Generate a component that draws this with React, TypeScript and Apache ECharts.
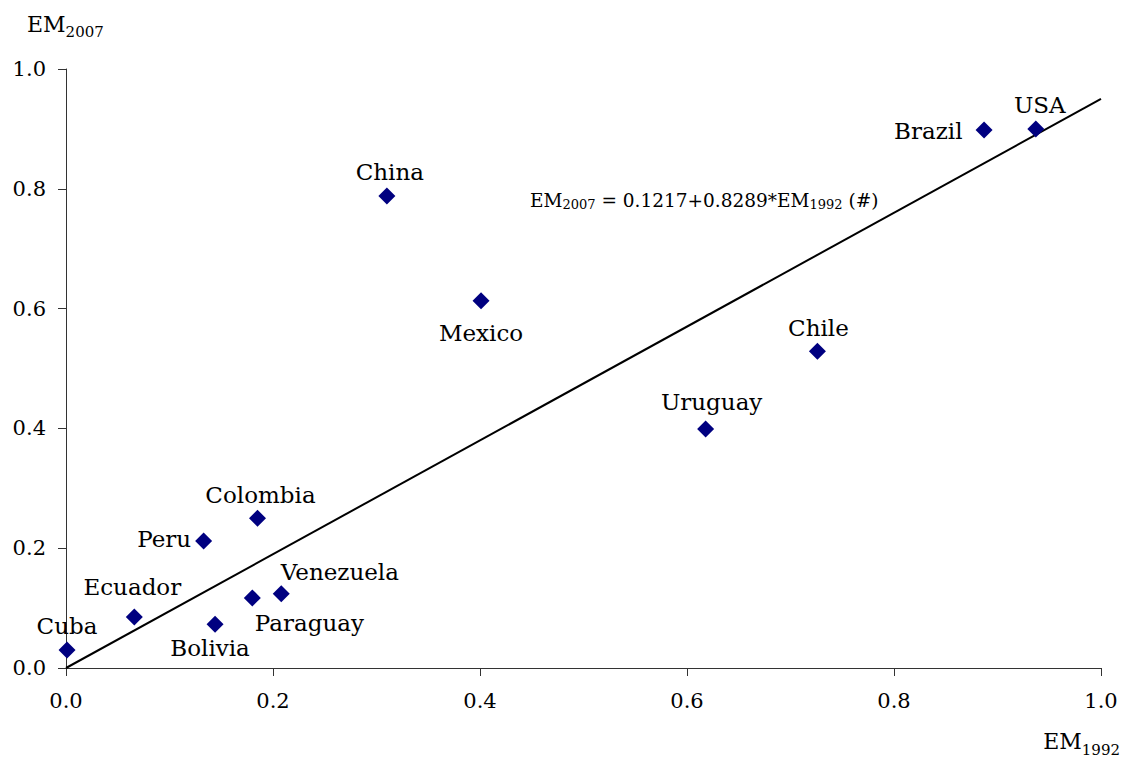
import React, { useEffect, useRef } from "react";
import * as echarts from "echarts";

const countries = ["Cuba", "Ecuador", "Bolivia", "Peru", "Colombia", "Paraguay", "Venezuela", "China", "Mexico", "Uruguay", "Chile", "Brazil", "USA"];
const em1992 = [0.001, 0.066, 0.144, 0.133, 0.185, 0.180, 0.208, 0.310, 0.401, 0.618, 0.726, 0.887, 0.937];
const em2007 = [0.030, 0.085, 0.073, 0.212, 0.250, 0.117, 0.124, 0.788, 0.613, 0.399, 0.529, 0.898, 0.900];
const lineX = [0, 1];
const lineY = [0, 0.95];
const yTitle = ["EM", "2007"];
const xTitle = ["EM", "1992"];
const equationParts = ["EM", "2007", " = 0.1217+0.8289*EM", "1992", " (#)"];

type LabelPos = { position: string; offset: [number, number]; distance: number };
const labelPlacement: LabelPos[] = [
  { position: "top", offset: [0, 1], distance: 5 },
  { position: "top", offset: [-2, -5], distance: 5 },
  { position: "bottom", offset: [-5, 0], distance: 4 },
  { position: "left", offset: [0, -2], distance: 4 },
  { position: "top", offset: [3, 2], distance: 5 },
  { position: "right", offset: [-11, 25], distance: 5 },
  { position: "right", offset: [-14, -22], distance: 5 },
  { position: "top", offset: [3, 1], distance: 5 },
  { position: "bottom", offset: [0, 0], distance: 12 },
  { position: "top", offset: [6, -2], distance: 5 },
  { position: "top", offset: [1, 2], distance: 5 },
  { position: "left", offset: [0, 1], distance: 13 },
  { position: "top", offset: [4, 1], distance: 5 },
];

const FONT_NAME = "DejaVu Serif";
const FONT = "'DejaVu Serif', serif";

function measure(text: string, size: number): number {
  const c = document.createElement("canvas").getContext("2d")!;
  c.font = `${size}px '${FONT_NAME}', serif`;
  return c.measureText(text).width;
}

// Builds subscripted text as separate text elements (main size / sub size alternating)
function subText(parts: string[], x: number, baseline: number, main: number, sub: number, subDrop: number, alignRight: boolean) {
  const sizes = parts.map((_, i) => (i % 2 === 0 ? main : sub));
  const widths = parts.map((p, i) => measure(p, sizes[i]));
  const total = widths.reduce((a, b) => a + b, 0);
  let cx = alignRight ? x - total : x;
  const els: any[] = [];
  parts.forEach((p, i) => {
    const fs = sizes[i];
    const base = i % 2 === 0 ? baseline : baseline + subDrop;
    els.push({
      type: "text",
      x: cx,
      y: base - 0.346 * fs,
      style: { text: p, fontFamily: FONT, fontSize: fs, fill: "#000", align: "left", verticalAlign: "middle" },
    });
    cx += widths[i];
  });
  return els;
}

export default function App() {
  const ref = useRef<HTMLDivElement>(null);
  useEffect(() => {
    const chart = echarts.init(ref.current!, null, { renderer: "svg" });
    const pts = countries.map((c, i) => ({
      value: [em1992[i], em2007[i]],
      name: c,
      label: {
        show: true,
        formatter: c,
        color: "#000",
        fontFamily: FONT,
        fontSize: 23,
        position: labelPlacement[i].position,
        offset: labelPlacement[i].offset,
        distance: labelPlacement[i].distance,
      },
    }));
    const graphics = [
      ...subText(yTitle, 27, 32, 22, 15, 5, false),
      ...subText(xTitle, 1120, 749, 22, 15, 6, true),
      ...subText(equationParts, 530, 207, 18.5, 13, 2, false),
    ];
    chart.setOption({
      animation: false,
      backgroundColor: "#ffffff",
      grid: { left: 66, right: 24, top: 69, bottom: 90, containLabel: false },
      xAxis: {
        type: "value",
        min: 0,
        max: 1,
        interval: 0.2,
        splitLine: { show: false },
        axisLine: { show: true, onZero: false, lineStyle: { color: "#333", width: 1 } },
        axisTick: { show: true, length: 8, lineStyle: { color: "#333" } },
        axisLabel: { color: "#000", fontFamily: FONT, fontSize: 21, margin: 22, formatter: (v: number) => v.toFixed(1) },
      },
      yAxis: {
        type: "value",
        min: 0,
        max: 1,
        interval: 0.2,
        splitLine: { show: false },
        axisLine: { show: true, onZero: false, lineStyle: { color: "#333", width: 1 } },
        axisTick: { show: true, length: 8, lineStyle: { color: "#333" } },
        axisLabel: { color: "#000", fontFamily: FONT, fontSize: 21, margin: 20, formatter: (v: number) => v.toFixed(1) },
      },
      graphic: graphics,
      series: [
        {
          type: "line",
          data: lineX.map((x, i) => [x, lineY[i]]),
          showSymbol: false,
          symbol: "none",
          lineStyle: { color: "#000", width: 2 },
          silent: true,
          z: 1,
        },
        {
          type: "scatter",
          data: pts,
          symbol: "diamond",
          symbolSize: 17,
          itemStyle: { color: "#000080", opacity: 1 },
          z: 3,
        },
      ],
    });
    return () => chart.dispose();
  }, []);
  return <div ref={ref} style={{ position: "fixed", left: 0, top: 0, width: 1125, height: 758 }} />;
}
